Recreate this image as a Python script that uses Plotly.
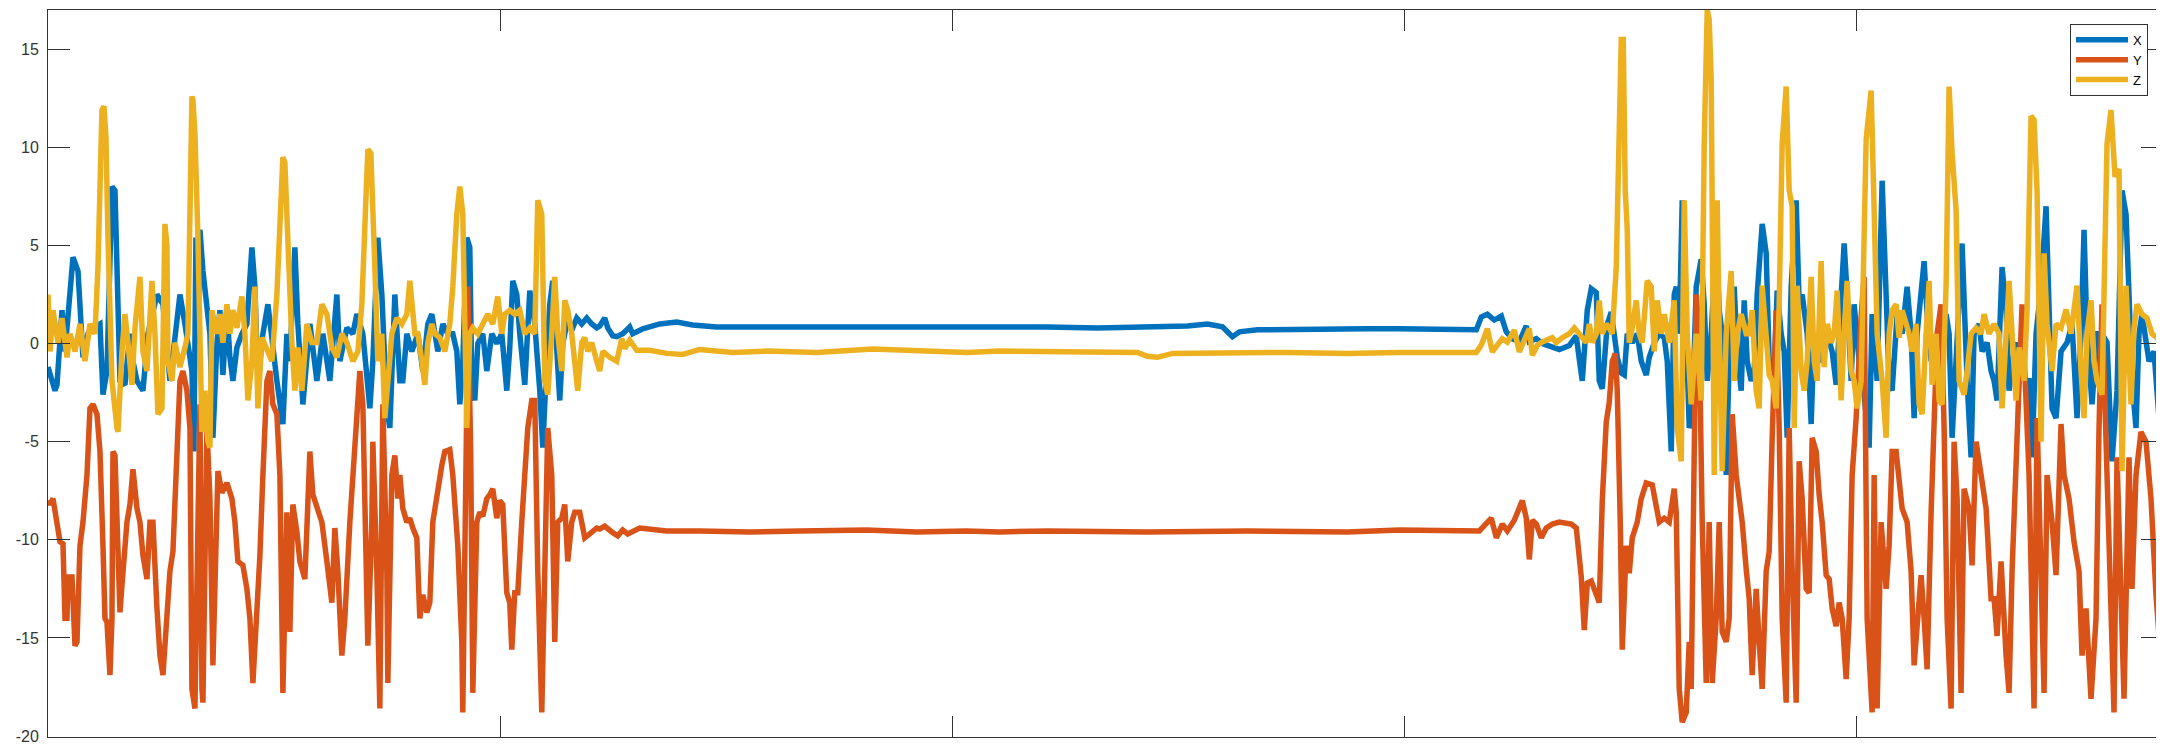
import plotly.graph_objects as go

# sample index (horizontal) and acceleration values for each axis
X_T = [0,7,9,14,17,25,30,34,35,40,45,52,55,59,64,67,69,72,77,82,85,89,95,100,109,115,122,132,137,144,146,148,150,152,155,159,162,165,169,172,175,179,182,185,189,194,199,204,207,210,215,220,224,229,235,239,242,247,250,255,262,269,275,282,289,292,299,305,309,315,322,325,330,334,339,342,347,352,355,359,364,367,370,375,380,384,387,390,395,400,405,409,412,415,419,422,424,427,430,435,439,444,449,454,459,462,465,469,472,477,482,487,492,495,499,502,505,509,512,515,519,525,529,534,539,544,549,552,557,560,565,569,575,582,585,595,612,629,645,669,692,732,769,802,852,902,952,1000,1050,1100,1140,1160,1175,1185,1192,1210,1260,1320,1352,1419,1429,1434,1440,1447,1454,1459,1465,1472,1479,1482,1489,1495,1502,1512,1522,1529,1532,1535,1540,1544,1549,1552,1555,1560,1564,1567,1570,1574,1577,1580,1585,1590,1594,1599,1602,1607,1612,1617,1620,1624,1627,1629,1632,1635,1639,1642,1645,1649,1654,1657,1660,1664,1669,1672,1675,1679,1682,1687,1690,1694,1697,1700,1704,1707,1710,1715,1719,1722,1727,1730,1734,1737,1740,1744,1749,1752,1755,1760,1764,1767,1772,1775,1780,1785,1789,1794,1797,1800,1804,1807,1812,1817,1822,1825,1830,1835,1839,1842,1845,1850,1855,1860,1864,1867,1870,1874,1877,1880,1884,1889,1894,1899,1902,1905,1910,1915,1920,1924,1927,1932,1935,1940,1944,1947,1950,1955,1959,1962,1967,1970,1974,1979,1982,1985,1989,1994,1999,2002,2005,2009,2014,2020,2025,2030,2034,2037,2040,2045,2050,2055,2060,2065,2070,2075,2079,2082,2085,2089,2092,2095,2099,2102,2107,2112,2116]
X_V = [-1.2,-2.4,-2.1,1.7,-0.4,4.4,3.7,0.5,-0.7,0.5,0.8,1.0,-2.6,-1.4,8.0,7.8,2.9,-1.9,-2.1,0.5,-0.9,-1.9,-2.4,0.5,2.5,2.0,-1.9,2.5,1.0,-1.4,-5.5,5.4,0.0,5.8,3.7,1.5,0.5,-4.8,0.0,1.7,-1.6,1.7,-0.7,-1.9,-0.2,0.5,1.0,4.9,2.9,-1.9,0.5,2.0,0.0,-1.9,-4.1,0.5,-0.9,4.9,1.0,-3.1,1.0,-1.9,0.5,-1.9,2.5,-0.9,0.8,0.5,1.5,0.5,-3.3,-0.9,5.4,2.5,-3.3,-4.3,2.5,-1.9,-1.9,0.5,-0.4,0.0,0.5,-1.4,1.0,1.5,0.5,-0.4,1.0,0.5,0.5,-0.4,-3.1,-0.9,5.4,4.9,-1.9,-2.9,0.0,0.5,-1.4,0.5,0.0,0.5,-2.4,-0.2,3.2,2.5,0.5,-2.1,2.7,1.0,-2.4,-5.3,-0.9,2.0,3.2,-0.9,-2.9,0.0,1.0,0.8,1.3,1.0,1.3,1.0,0.8,0.9,1.3,0.8,0.4,0.35,0.5,0.85,0.5,0.75,1.0,1.1,0.95,0.85,0.85,0.9,0.9,0.9,0.85,0.85,0.85,0.85,0.8,0.85,0.9,1.0,0.85,0.35,0.6,0.7,0.75,0.75,0.76,0.76,0.7,1.35,1.5,1.2,1.4,0.6,0.25,0.1,0.9,0.1,0.25,0.0,-0.1,-0.3,-0.1,0.4,-0.8,-1.9,1.7,2.8,2.6,-1.9,-2.3,1.0,1.6,0.5,-0.7,-1.5,-1.6,0.5,0.05,0.5,-0.9,-1.6,-0.7,0.05,0.5,0.3,-0.9,-5.5,2.5,2.9,0.5,7.3,0.5,-4.3,-3.8,2.9,4.3,2.0,-1.9,0.5,5.4,1.7,0.5,-6.7,-0.7,2.9,-0.4,-2.4,2.2,-0.9,-1.9,-1.4,2.5,6.1,4.6,-0.9,-1.4,2.7,0.5,-0.4,-4.8,2.9,7.3,2.0,2.5,0.5,-4.1,0.5,-0.7,-0.9,0.5,-0.4,-2.1,2.5,5.1,2.5,-1.9,2.0,-0.9,-2.6,-5.3,1.5,-1.9,8.3,2.9,-1.9,-2.4,1.5,0.5,2.9,0.5,-3.8,0.5,2.9,4.2,1.5,-0.9,0.05,0.5,1.5,0.5,-4.8,0.5,5.1,-1.9,-5.8,0.5,1.0,-0.4,0.05,-1.4,-1.9,-2.9,3.9,1.7,-2.4,-0.4,0.05,-1.4,-1.9,-1.9,-5.8,0.5,2.9,7.0,1.5,-3.3,-3.8,-0.4,0.05,1.0,-3.8,0.5,5.8,0.5,-3.1,0.5,0.5,0.05,-6.0,-2.4,7.8,6.6,2.5,-1.9,-4.3,0.5,1.5,0.05,-0.9,-0.4,-3.8,-1.4]

Y_T = [0,2,5,9,12,15,17,19,20,24,27,29,32,35,39,42,45,49,52,55,57,59,62,64,65,67,70,72,74,77,79,82,85,89,92,95,99,102,105,109,112,115,119,122,125,129,132,135,139,142,144,147,150,152,154,155,159,162,165,169,170,174,179,184,187,190,195,199,202,205,209,212,215,219,222,225,229,232,235,239,242,245,249,252,257,262,265,269,274,279,284,287,290,294,297,302,305,309,312,315,319,320,324,325,329,332,335,339,340,344,347,350,352,355,359,362,365,369,372,375,379,382,385,389,394,397,402,405,410,414,415,419,420,423,425,429,432,435,439,442,445,449,452,455,459,462,464,467,470,474,477,480,484,487,490,494,497,500,504,507,510,514,517,520,524,527,532,537,542,549,552,557,564,570,575,580,592,619,652,702,752,819,869,919,952,1000,1100,1200,1300,1352,1432,1444,1449,1455,1460,1467,1475,1479,1482,1485,1489,1494,1499,1505,1512,1519,1524,1529,1534,1537,1540,1544,1549,1552,1555,1559,1562,1565,1568,1570,1573,1575,1579,1582,1585,1590,1594,1599,1605,1609,1612,1617,1622,1627,1629,1632,1635,1639,1642,1644,1647,1649,1652,1655,1659,1662,1665,1669,1672,1675,1679,1682,1685,1689,1692,1695,1699,1702,1705,1709,1712,1715,1719,1722,1725,1729,1732,1735,1739,1742,1745,1749,1752,1755,1759,1762,1765,1769,1772,1775,1779,1782,1785,1789,1792,1795,1799,1802,1805,1809,1814,1817,1820,1825,1827,1830,1834,1839,1842,1845,1849,1852,1855,1860,1864,1867,1870,1874,1877,1880,1884,1887,1890,1894,1897,1900,1904,1907,1910,1914,1917,1922,1925,1929,1934,1939,1944,1947,1950,1954,1959,1962,1965,1970,1975,1982,1987,1990,1997,2000,2005,2009,2014,2017,2022,2027,2032,2035,2039,2044,2049,2052,2055,2060,2067,2070,2077,2082,2085,2089,2094,2099,2104,2109,2112,2116]
Y_V = [-8.0,-8.2,-7.9,-9.1,-10.1,-10.2,-14.0,-14.0,-11.9,-11.9,-15.4,-15.2,-10.3,-9.1,-6.7,-3.3,-3.1,-3.6,-5.5,-10.3,-14.0,-14.2,-16.9,-14.0,-5.5,-5.7,-11.6,-13.7,-12.3,-9.9,-9.1,-8.2,-6.4,-8.4,-9.1,-10.8,-12.0,-9.1,-9.1,-13.5,-15.9,-16.9,-14.0,-11.6,-10.6,-5.7,-1.9,-1.4,-2.4,-4.3,-17.6,-18.6,-7.9,-3.1,-17.6,-18.3,-4.3,-7.9,-16.4,-9.9,-6.5,-7.6,-7.1,-7.9,-9.1,-11.1,-11.3,-12.5,-14.0,-17.3,-14.0,-10.8,-6.7,-1.9,-1.4,-3.1,-3.6,-6.7,-17.8,-8.6,-14.7,-8.2,-9.6,-11.1,-12.0,-5.5,-7.7,-8.4,-9.1,-11.1,-13.2,-9.4,-11.6,-15.9,-14.0,-9.1,-6.7,-3.1,-1.4,-3.1,-14.0,-15.4,-9.1,-5.0,-11.6,-18.6,-3.1,-11.6,-17.3,-6.7,-5.7,-7.9,-6.7,-8.4,-9.1,-8.9,-9.4,-9.9,-14.0,-12.8,-13.7,-13.2,-9.1,-7.7,-6.2,-5.5,-5.4,-6.7,-10.3,-15.2,-18.8,-3.0,2.9,-6.0,-17.8,-9.1,-8.6,-8.8,-7.9,-7.7,-7.4,-8.9,-8.0,-8.2,-12.7,-13.2,-15.6,-12.7,-12.7,-9.1,-6.7,-4.3,-2.9,-2.9,-11.6,-18.8,-11.6,-4.3,-6.7,-15.2,-9.1,-8.9,-8.2,-11.1,-9.1,-8.6,-8.6,-9.9,-9.7,-9.4,-9.45,-9.3,-9.6,-9.8,-9.5,-9.7,-9.4,-9.55,-9.55,-9.6,-9.55,-9.5,-9.6,-9.55,-9.6,-9.55,-9.6,-9.55,-9.6,-9.5,-9.55,-8.9,-9.9,-9.2,-9.55,-9.0,-8.0,-8.9,-11.0,-9.0,-9.2,-9.9,-9.4,-9.2,-9.1,-9.2,-9.2,-9.4,-11.9,-14.6,-12.2,-12.1,-12.9,-13.2,-8.0,-4.0,-3.0,-0.9,-0.5,-2.4,-9.1,-15.6,-10.3,-11.7,-9.9,-9.1,-7.9,-7.1,-7.2,-8.2,-9.1,-8.9,-9.1,-7.4,-8.6,-17.6,-19.3,-18.8,-15.2,-17.6,-4.3,2.5,0.5,-9.1,-17.3,-9.1,-17.3,-14.0,-9.1,-14.7,-15.2,-14.0,-3.6,-6.7,-7.9,-9.1,-11.5,-13.0,-16.9,-12.5,-15.2,-17.6,-11.6,-10.6,-4.8,1.7,-4.3,-14.0,-18.3,-4.3,-11.6,-18.3,-6.0,-7.9,-12.5,-12.7,-4.8,-5.5,-7.7,-9.1,-11.8,-12.0,-13.5,-14.4,-13.2,-14.0,-17.1,-14.0,-6.7,-3.8,1.4,3.4,-14.0,-18.8,-6.7,-18.6,-9.1,-12.5,-10.3,-5.5,-5.5,-6.7,-8.4,-9.1,-11.6,-16.4,-14.0,-11.8,-14.0,-16.6,-8.6,-4.3,0.5,2.0,-4.3,-14.0,-18.6,-5.0,-7.9,-17.8,-7.4,-8.4,-11.3,-5.0,-6.7,-8.4,-13.0,-13.0,-14.9,-11.1,-15.9,-17.8,-11.6,-4.3,2.0,-6.7,-18.6,-3.8,-17.8,-6.7,-9.1,-11.8,-4.1,-6.7,-7.9,-10.1,-11.6,-15.9,-13.5,-18.1,-14.0,-4.3,2.0,-6.7,-18.8,-5.8,-18.1,-5.8,-12.5,-6.7,-4.5,-5.0,-7.9,-12.8,-14.9,-11.3]

Z_T = [0,2,5,10,14,19,22,27,32,37,42,47,50,54,56,58,60,64,69,70,74,77,80,84,87,92,95,99,104,107,110,114,117,119,120,124,127,132,137,140,144,145,147,150,154,157,160,162,164,169,172,175,179,182,185,189,194,197,200,204,207,210,214,219,224,229,232,235,237,240,244,247,250,254,259,264,269,274,279,284,289,294,299,305,310,314,317,320,323,325,327,330,334,337,340,344,349,354,359,362,367,370,374,377,380,384,387,392,397,402,405,409,412,415,419,422,425,430,435,440,445,450,454,457,462,467,472,477,482,487,490,494,497,500,504,507,510,514,517,520,524,527,530,534,537,540,544,549,552,555,562,569,574,577,582,589,602,619,635,652,685,719,769,825,869,919,952,1000,1060,1090,1100,1110,1125,1180,1240,1300,1352,1429,1434,1440,1445,1450,1455,1460,1467,1472,1479,1482,1485,1490,1495,1500,1505,1509,1515,1522,1527,1532,1539,1542,1545,1549,1552,1555,1559,1562,1565,1569,1572,1574,1576,1578,1580,1582,1585,1589,1592,1595,1600,1604,1607,1610,1614,1617,1622,1627,1630,1634,1637,1640,1644,1649,1654,1657,1660,1662,1664,1665,1667,1669,1670,1672,1675,1679,1684,1687,1690,1694,1699,1702,1705,1709,1712,1715,1719,1722,1725,1729,1732,1735,1739,1742,1745,1747,1750,1754,1757,1760,1764,1767,1770,1774,1777,1780,1784,1787,1790,1794,1797,1800,1804,1807,1810,1814,1819,1824,1827,1830,1835,1839,1842,1845,1849,1852,1855,1859,1862,1865,1869,1872,1875,1879,1882,1885,1889,1892,1895,1899,1902,1905,1909,1912,1917,1920,1924,1929,1934,1937,1942,1947,1952,1955,1959,1962,1965,1969,1972,1977,1980,1984,1987,1990,1994,1997,2000,2005,2009,2014,2019,2024,2027,2030,2034,2037,2040,2044,2047,2050,2055,2060,2064,2068,2072,2075,2079,2084,2087,2090,2095,2100,2105,2110,2116]
Z_V = [2.5,-0.4,1.7,0.05,1.3,-0.7,0.5,-0.4,1.0,-0.9,1.0,0.5,3.9,11.9,12.1,10.5,5.4,-1.9,-4.3,-4.5,-0.4,1.5,0.05,-2.1,0.8,3.4,-0.4,-1.4,3.2,0.5,-3.6,-3.3,6.1,5.0,-0.9,-1.9,0.05,-1.2,-0.2,0.5,12.6,12.4,10.7,5.4,-4.5,-2.4,-5.0,-5.3,1.7,0.5,1.5,0.05,2.0,0.5,1.7,0.8,2.4,0.5,-2.9,-0.9,2.9,-3.3,0.3,-0.4,-0.9,2.5,5.8,9.5,9.2,5.1,0.05,-2.4,-0.2,-2.4,1.0,0.05,0.05,2.0,1.5,-0.2,-0.7,0.5,0.05,-0.9,-0.4,2.0,6.5,9.9,9.7,7.2,3.9,-0.9,0.5,-3.8,-1.9,0.5,1.3,1.0,1.5,3.2,0.5,0.5,-0.9,-2.1,0.05,1.0,0.5,0.3,-0.4,1.0,2.9,6.6,8.0,6.6,-4.3,0.5,0.8,0.5,1.0,1.5,1.0,2.4,0.5,1.5,1.7,1.5,1.7,0.5,0.8,0.5,7.3,6.6,-1.9,-2.6,0.5,3.4,0.5,-1.4,2.2,1.7,0.5,-0.9,-2.4,0.05,0.3,-0.4,0.05,-0.9,-1.4,-0.4,-0.7,-0.9,0.25,-0.25,0.17,-0.34,-0.34,-0.5,-0.55,-0.3,-0.45,-0.38,-0.45,-0.28,-0.38,-0.45,-0.38,-0.4,-0.42,-0.45,-0.65,-0.7,-0.5,-0.45,-0.45,-0.5,-0.45,-0.45,-0.08,0.76,-0.42,-0.08,0.25,0.08,0.68,-0.42,0.51,0.76,-0.59,-0.08,0.08,0.17,0.3,0.05,0.3,0.5,0.8,0.5,0.05,1.0,0.05,0.5,2.2,0.5,1.0,0.8,0.5,3.9,10.2,15.5,15.5,7.8,5.8,0.05,0.8,2.2,0.5,0.05,3.2,2.9,-0.4,2.2,0.5,1.5,0.05,2.2,-4.3,-6.0,7.3,0.5,-3.1,0.5,-2.9,10.2,17.0,16.5,13.5,7.8,-6.7,0.5,7.3,0.5,-6.5,0.5,3.7,-1.9,0.5,1.5,0.5,0.5,1.7,-2.4,-3.3,2.95,0.5,-1.6,-1.9,-3.3,2.0,10.2,13.1,7.8,7.0,-4.3,2.95,-1.4,-2.4,-0.9,3.4,-0.9,-1.9,4.2,-1.2,1.0,0.05,0.5,2.7,-2.9,0.5,3.2,-1.4,-1.9,-3.3,-1.9,10.4,12.9,6.8,0.5,-1.9,-4.8,0.5,1.7,2.0,0.3,1.7,1.0,0.5,-0.4,1.0,-3.1,-3.6,0.5,3.2,-2.1,0.5,-2.9,-3.1,2.95,13.1,9.7,6.8,-1.9,-2.6,-1.4,0.5,0.8,0.5,1.5,0.5,1.0,0.5,-3.3,0.5,3.2,0.5,-2.9,-0.2,-1.9,1.74,11.6,11.4,7.8,-5.0,4.6,1.0,-1.4,1.0,0.8,1.74,0.5,1.74,2.95,-1.4,-3.8,0.5,2.2,-0.9,-1.9,-2.6,10.2,11.9,8.5,8.9,-6.5,2.95,-3.1,0.8,2.0,1.5,1.3,0.5,0.3,0.05]

NAMES = ["X", "Y", "Z"]
COLORS = ["#0072BD", "#D95319", "#EDB120"]
Y_TICKS = [-20, -15, -10, -5, 0, 5, 10, 15]
Y_TICKTEXT = ["-20", "-15", "-10", "-5", "0", "5", "10", "15"]
X_TICKS = [0, 452.3, 904.6, 1356.9, 1809.2]

fig = go.Figure()
for name, t, v, c in zip(NAMES, [X_T, Y_T, Z_T], [X_V, Y_V, Z_V], COLORS):
    fig.add_trace(go.Scatter(x=t, y=v, mode="lines", name=name,
                             line=dict(color=c, width=5.5)))

axis_col = "#333333"
# the page body adds an 8 px offset, so the figure is 8 px smaller than the window
fig.update_layout(
    width=2156, height=737,
    margin=dict(l=40, r=0, t=2, b=3),
    paper_bgcolor="white", plot_bgcolor="white",
    font=dict(family="Liberation Sans, Arial, sans-serif", size=16, color=axis_col),
    showlegend=True,
    legend=dict(x=0.9929, xanchor="right", y=0.981, yanchor="top",
                bgcolor="white", bordercolor=axis_col, borderwidth=1,
                font=dict(size=13, color="#000000"), itemwidth=52,
                tracegroupgap=0),
)
fig.update_xaxes(range=[0, 2116], tickvals=X_TICKS, showticklabels=False,
                 ticks="inside", ticklen=21, tickwidth=1, tickcolor=axis_col,
                 showline=True, linecolor=axis_col, linewidth=1, mirror="ticks",
                 showgrid=False, zeroline=False)
fig.update_yaxes(range=[-20.05, 17], tickvals=Y_TICKS, ticktext=Y_TICKTEXT,
                 ticks="inside", ticklen=22, tickwidth=1, tickcolor=axis_col,
                 showline=True, linecolor=axis_col, linewidth=1, mirror="ticks",
                 showgrid=False, zeroline=False, ticklabelstandoff=5,
                 ticklabeloverflow="allow",
                 tickfont=dict(size=16, color=axis_col))

fig.write_html("out.html")
